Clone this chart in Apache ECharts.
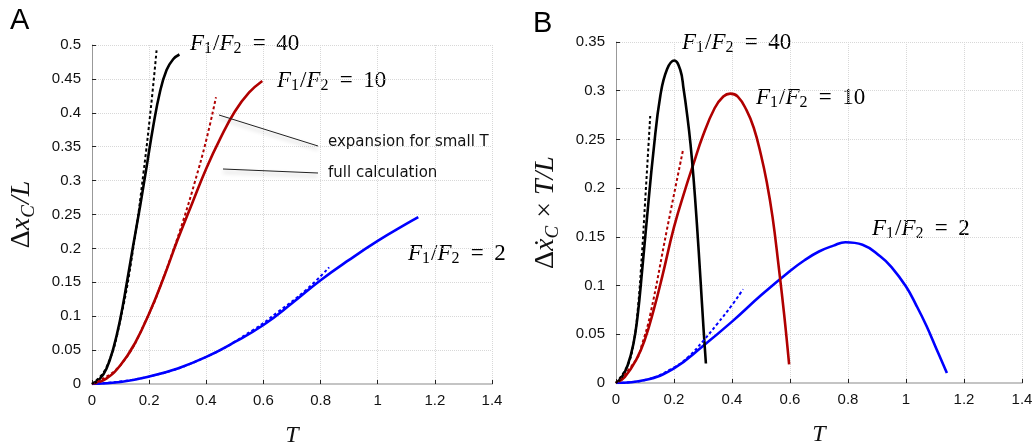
<!DOCTYPE html>
<html>
<head>
<meta charset="utf-8">
<script src="https://cdn.jsdelivr.net/npm/echarts@6/dist/echarts.min.js"></script>
<style>html,body{margin:0;padding:0;background:#fff}#c{width:1035px;height:444px}</style>
</head>
<body>
<div id="c"></div>
<script>
// ---- Panel A: Δx_C / L  ----
const A40_T = [0,0.028,0.051,0.075,0.098,0.121,0.144,0.168,0.191,0.214,0.238,0.261,0.284,0.306];
const A40_V = [0,0.008,0.023,0.053,0.094,0.147,0.204,0.2615,0.320,0.3795,0.431,0.463,0.479,0.486];
const A40d_T = [0,0.05,0.1,0.15,0.18,0.206,0.226];
const A40d_V = [0,0.024,0.096,0.216,0.311,0.407,0.492];
const A10_T = [0,0.05,0.1,0.15,0.2,0.25,0.3,0.35,0.4,0.45,0.5,0.55,0.596];
const A10_V = [0,0.008,0.028,0.06,0.104,0.156,0.213,0.266,0.318,0.363,0.402,0.43,0.447];
const A10d_T = [0,0.1,0.2,0.25,0.28,0.32,0.36,0.4,0.434];
const A10d_V = [0,0.028,0.104,0.157,0.192,0.242,0.298,0.36,0.423];
const A2_T = [0,0.1,0.2,0.3,0.4,0.5,0.6,0.7,0.8,0.9,1.0,1.1,1.142];
const A2_V = [0,0.003,0.011,0.023,0.040,0.062,0.087,0.119,0.153,0.183,0.211,0.236,0.246];
const A2d_T = [0,0.2,0.4,0.565,0.65,0.75,0.83];
const A2d_V = [0,0.011,0.040,0.080,0.106,0.139,0.172];

// ---- Panel B: Δẋ_C × T / L ----
const B40_T = [0,0.02,0.04,0.06,0.075,0.09,0.107,0.13,0.153,0.176,0.201,0.222,0.233,0.245,0.257,0.268,0.279,0.291,0.302,0.31];
const B40_V = [0,0.006,0.018,0.04,0.07,0.115,0.17,0.24,0.295,0.322,0.331,0.321,0.302,0.276,0.245,0.208,0.163,0.108,0.055,0.020];
const B40d_T = [0,0.04,0.06,0.075,0.09,0.1,0.118];
const B40d_V = [0,0.018,0.04,0.075,0.135,0.184,0.274];
const B10_T = [0,0.03,0.07,0.1,0.13,0.16,0.2,0.24,0.265,0.3,0.34,0.37,0.394,0.42,0.45,0.475,0.5,0.52,0.54,0.56,0.58,0.597];
const B10_V = [0,0.006,0.024,0.045,0.075,0.11,0.16,0.2,0.223,0.254,0.282,0.294,0.297,0.294,0.28,0.262,0.234,0.206,0.17,0.122,0.07,0.019];
const B10d_T = [0,0.07,0.09,0.118,0.176,0.231];
const B10d_V = [0,0.024,0.04,0.07,0.158,0.239];
const B2_T = [0,0.1,0.2,0.3,0.4,0.5,0.6,0.65,0.7,0.75,0.791,0.85,0.911,0.95,1.0,1.035,1.07,1.105,1.141];
const B2_V = [0,0.003,0.015,0.038,0.063,0.09,0.115,0.126,0.135,0.141,0.1445,0.142,0.13,0.119,0.099,0.08,0.059,0.035,0.0102];
const B2d_T = [0,0.1,0.2,0.25,0.3,0.35,0.4,0.438];
const B2d_V = [0,0.003,0.016,0.027,0.043,0.061,0.08,0.0963];

const xMin = 0, xMax = 1.4, xStep = 0.2;
const yAMax = 0.5, yBMax = 0.35, yStep = 0.05;
const ratioLabels = ['40', '10', '2'];
const annoTexts = ['expansion for small T', 'full calculation'];
const panelLetters = ['A', 'B'];

const BLACK = '#000000', RED = '#b00000', BLUE = '#0000ff';
const SERIF = '"Liberation Serif","DejaVu Serif",serif';
const SANS = '"Liberation Sans",Arial,sans-serif';

function zip(t, v) { return t.map((x, i) => [x, v[i]]); }

const mathRich = (fs) => ({
  i: {fontFamily: SERIF, fontStyle: 'italic', fontSize: fs, color: '#111'},
  n: {fontFamily: SERIF, fontSize: fs, color: '#111'},
  s: {fontFamily: SERIF, fontStyle: 'italic', fontSize: Math.round(fs*0.68), color: '#111', padding: [Math.round(fs*0.45),1,0,0]},
  u: {fontFamily: SERIF, fontSize: Math.round(fs*0.68), color: '#111', padding: [Math.round(fs*0.45),1,0,0]}
});

function ratioText(v) { return '{i|F}{u|1}{n|/}{i|F}{u|2}{n| \u2009=\u2009 ' + v + '}'; }

function xAxisCfg(gi) {
  return {
    gridIndex: gi, type: 'value', min: xMin, max: xMax, interval: xStep,
    name: 'T', nameLocation: 'middle', nameGap: 40,
    nameTextStyle: {fontFamily: SERIF, fontStyle: 'italic', fontSize: 24, color: '#111'},
    axisLine: {show: true, lineStyle: {color: '#c4c4c4', width: 2}},
    axisTick: {show: true, inside: true, length: 4, lineStyle: {color: '#222'}},
    axisLabel: {fontFamily: SANS, fontSize: 15, color: '#111', margin: 9},
    splitLine: {show: true, lineStyle: {type: 'dotted', color: '#d8d8d8'}}
  };
}
function yAxisCfg(gi, max, nameRich, gap) {
  return {
    gridIndex: gi, type: 'value', min: 0, max: max, interval: yStep,
    name: nameRich, nameLocation: 'middle', nameGap: gap, nameRotate: 90,
    nameTextStyle: {rich: mathRich(28)},
    axisLine: {show: true, lineStyle: {color: '#999', width: 1}},
    axisTick: {show: true, inside: true, length: 4, lineStyle: {color: '#222'}},
    axisLabel: {fontFamily: SANS, fontSize: 15, color: '#111', margin: 11},
    splitLine: {show: true, lineStyle: {type: 'dotted', color: '#d8d8d8'}}
  };
}
function line(xi, t, v, color, dashed) {
  return {
    type: 'line', xAxisIndex: xi, yAxisIndex: xi, data: zip(t, v),
    showSymbol: false, smooth: 0.45, silent: true,
    lineStyle: dashed ? {color: color, width: 2, type: [3, 2.5]} : {color: color, width: 2.6},
    z: dashed ? 3 : 2
  };
}

const chart = echarts.init(document.getElementById('c'), null, {renderer: 'canvas'});
chart.setOption({
  animation: false,
  backgroundColor: '#fff',
  grid: [
    {left: 92, right: 543, top: 45, bottom: 60, containLabel: false, outerBoundsMode: 'none'},
    {left: 616, right: 13, top: 42, bottom: 61, containLabel: false, outerBoundsMode: 'none'}
  ],
  xAxis: [xAxisCfg(0), xAxisCfg(1)],
  yAxis: [
    yAxisCfg(0, yAMax, '{n|\u0394}{i|x}{s|C}{i|/L}', 54),
    yAxisCfg(1, yBMax, '{n|\u0394}{i|x\u0307}{s|C}{n| \u00d7 }{i|T/L}', 54)
  ],
  series: [
    line(0, A2_T, A2_V, BLUE, false), line(0, A2d_T, A2d_V, BLUE, true),
    line(0, A10_T, A10_V, RED, false), line(0, A10d_T, A10d_V, RED, true),
    line(0, A40_T, A40_V, BLACK, false), line(0, A40d_T, A40d_V, BLACK, true),
    line(1, B2_T, B2_V, BLUE, false), line(1, B2d_T, B2d_V, BLUE, true),
    line(1, B10_T, B10_V, RED, false), line(1, B10d_T, B10d_V, RED, true),
    line(1, B40_T, B40_V, BLACK, false), line(1, B40d_T, B40d_V, BLACK, true)
  ],
  graphic: [
    {type: 'text', left: 10, top: 6, style: {text: panelLetters[0], font: '29px ' + SANS, fill: '#000'}},
    {type: 'text', left: 533, top: 9, style: {text: panelLetters[1], font: '29px ' + SANS, fill: '#000'}},
    {type: 'text', x: 190, y: 44, style: {text: ratioText(ratioLabels[0]), rich: mathRich(23), verticalAlign: 'middle'}},
    {type: 'text', x: 277, y: 81, style: {text: ratioText(ratioLabels[1]), rich: mathRich(23), verticalAlign: 'middle'}},
    {type: 'text', x: 408, y: 254, style: {text: ratioText(ratioLabels[2]), rich: mathRich(23), verticalAlign: 'middle'}},
    {type: 'text', x: 682, y: 43, style: {text: ratioText(ratioLabels[0]), rich: mathRich(23), verticalAlign: 'middle'}},
    {type: 'text', x: 756, y: 98, style: {text: ratioText(ratioLabels[1]), rich: mathRich(23), verticalAlign: 'middle'}},
    {type: 'text', x: 872, y: 229, style: {text: ratioText(ratioLabels[2]), rich: mathRich(23), verticalAlign: 'middle'}},
    {type: 'line', shape: {x1: 219, y1: 115, x2: 318, y2: 146}, z: 10,
     style: {stroke: '#222', lineWidth: 1, shadowBlur: 4, shadowOffsetY: 3, shadowColor: 'rgba(0,0,0,0.3)'}},
    {type: 'line', shape: {x1: 223, y1: 169, x2: 318, y2: 173}, z: 10,
     style: {stroke: '#222', lineWidth: 1, shadowBlur: 4, shadowOffsetY: 3, shadowColor: 'rgba(0,0,0,0.3)'}},
    {type: 'text', x: 328, y: 142, z: 10, style: {text: annoTexts[0], font: '15px "DejaVu Sans",Verdana,sans-serif', fill: '#111', verticalAlign: 'middle'}},
    {type: 'text', x: 328, y: 173, z: 10, style: {text: annoTexts[1], font: '15px "DejaVu Sans",Verdana,sans-serif', fill: '#111', verticalAlign: 'middle'}}
  ]
});
</script>
</body>
</html>
